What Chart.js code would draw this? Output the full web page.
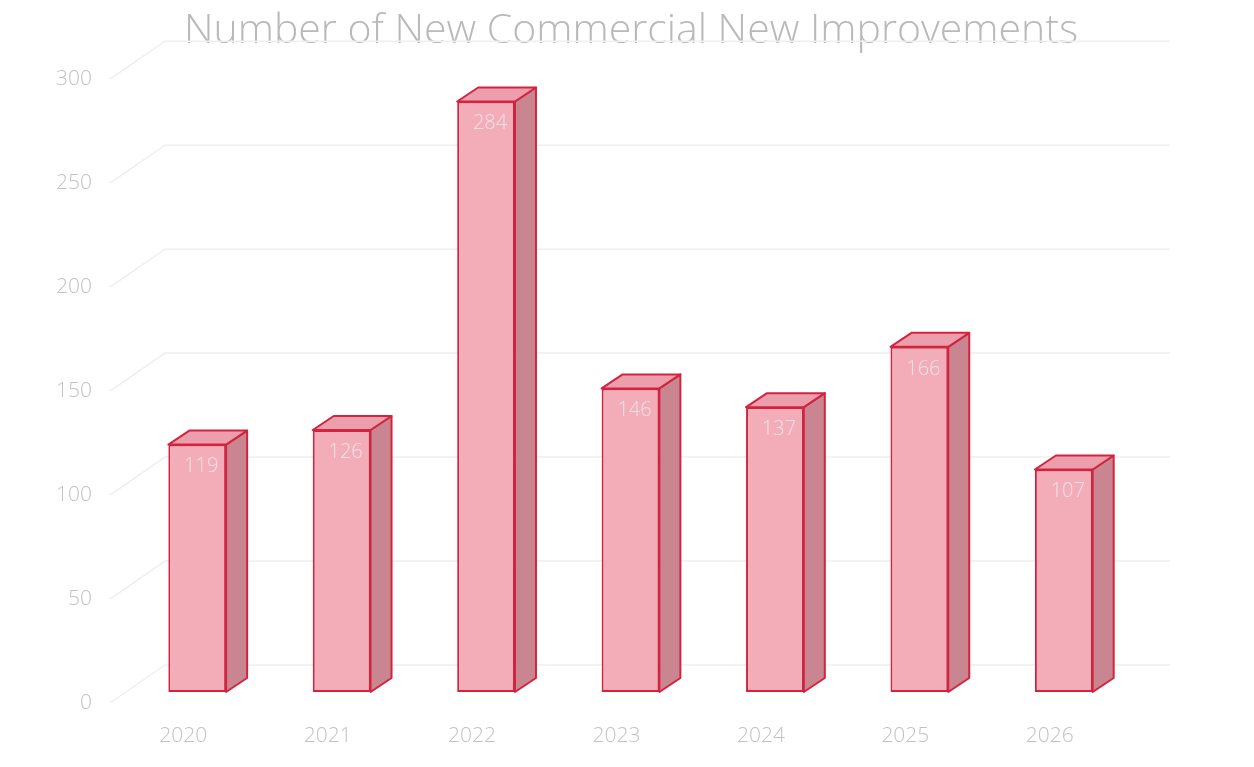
<!DOCTYPE html>
<html>
<head>
<meta charset="utf-8">
<script src="https://cdn.jsdelivr.net/npm/chart.js@4.4.1/dist/chart.umd.min.js"></script>
<style>
  html,body{margin:0;padding:0;background:#fff;}
  #wrap{width:1254px;height:767px;}
</style>
</head>
<body>
<div id="wrap"><canvas id="improvChart" width="1254" height="767"></canvas></div>
<script>
/* ===== Data ===== */
const years = ["2020","2021","2022","2023","2024","2025","2026"];
const counts = [119, 126, 284, 146, 137, 166, 107];
const yTicks = [0, 50, 100, 150, 200, 250, 300];

/* ===== Look ===== */
const FRONT = "#f3adb9";
const SIDE = "#c98690";
const TOP = "#ec9eac";
const EDGE = "#d3243f";
const DEPTH_X = 21, DEPTH_Y = -14;
const FONT = "'Open Sans'";

// back wall grid: each line starts at the front left, slants back, then runs across
const wallGrid = {
  id:"wallGrid",
  beforeDatasetsDraw(chart){
    const {ctx, scales:{y}} = chart;
    ctx.save();
    ctx.strokeStyle = "#efefef";
    ctx.lineWidth = 1.5;
    yTicks.forEach(v=>{
      const py = y.getPixelForValue(v);
      ctx.beginPath();
      ctx.moveTo(110, py+11);
      ctx.lineTo(165, py-27);
      ctx.lineTo(1170, py-27);
      ctx.stroke();
    });
    ctx.restore();
  }
};

// side + top faces and the value inside each bar
const boxes = {
  id:"boxes",
  afterDatasetsDraw(chart){
    const {ctx} = chart;
    const meta = chart.getDatasetMeta(0);
    ctx.save();
    ctx.lineWidth = 2;
    ctx.strokeStyle = EDGE;
    ctx.lineJoin = "round";
    meta.data.forEach((bar,i)=>{
      const {x, y, base, width} = bar.getProps(["x","y","base","width"], true);
      const l = x - width/2, r = x + width/2;

      ctx.beginPath();
      ctx.moveTo(r, y);
      ctx.lineTo(r+DEPTH_X, y+DEPTH_Y);
      ctx.lineTo(r+DEPTH_X, base+DEPTH_Y);
      ctx.lineTo(r, base);
      ctx.closePath();
      ctx.fillStyle = SIDE;
      ctx.fill();
      ctx.stroke();

      ctx.beginPath();
      ctx.moveTo(l, y);
      ctx.lineTo(l+DEPTH_X, y+DEPTH_Y);
      ctx.lineTo(r+DEPTH_X, y+DEPTH_Y);
      ctx.lineTo(r, y);
      ctx.closePath();
      ctx.fillStyle = TOP;
      ctx.fill();
      ctx.stroke();

      ctx.fillStyle = "#ece2e6";
      ctx.font = "300 20px " + FONT;
      ctx.textAlign = "center";
      ctx.textBaseline = "middle";
      ctx.fillText(String(counts[i]), x+4, y+22);
    });
    ctx.restore();
  }
};

const tickFont = {family:FONT,size:21,weight:"300"};

new Chart(document.getElementById("improvChart"),{
  type:"bar",
  data:{
    labels:years,
    datasets:[{
      data:counts,
      backgroundColor:FRONT,
      borderColor:EDGE,
      borderWidth:2,
      borderSkipped:false,
      barPercentage:1,
      categoryPercentage:0.4
    }]
  },
  options:{
    responsive:false,
    animation:false,
    layout:{padding:{left:8,right:0,top:0,bottom:0}},
    plugins:{
      legend:{display:false},
      tooltip:{enabled:false},
      title:{
        display:true,
        text:"Number of New Commercial New Improvements",
        color:"#b9b9b9",
        font:{family:FONT,size:41,weight:"300"},
        padding:{top:7,bottom:12}
      }
    },
    scales:{
      x:{
        grid:{display:false,drawTicks:false},
        border:{display:false},
        ticks:{color:"#c2c2c2",font:tickFont,padding:31,labelOffset:-14,maxRotation:0},
        afterFit(s){ s.height = 75; }
      },
      y:{
        min:0,max:300,
        grid:{display:false,drawTicks:false},
        border:{display:false},
        ticks:{stepSize:50,color:"#c2c2c2",font:tickFont,padding:33,labelOffset:11},
        afterFit(s){ s.width = 117; }
      },
      // empty right-hand axis, keeps the plot clear of the right edge
      yRight:{
        position:"right",
        min:0,max:300,
        grid:{display:false,drawTicks:false},
        border:{display:false},
        ticks:{display:false},
        afterFit(s){ s.width = 118; }
      }
    }
  },
  plugins:[wallGrid, boxes]
});
</script>
</body>
</html>
